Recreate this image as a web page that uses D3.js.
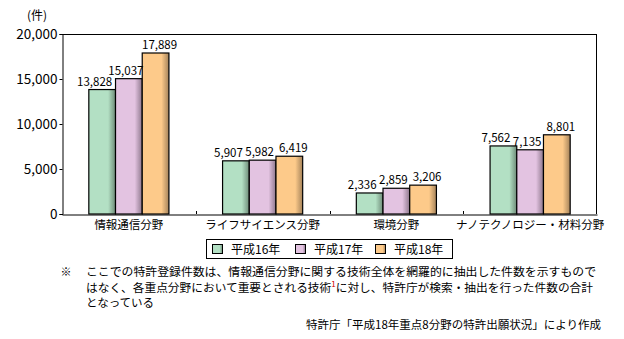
<!DOCTYPE html>
<html><head><meta charset="utf-8">
<script src="https://cdn.jsdelivr.net/npm/d3@7"></script>
<style>body{margin:0;background:#fff}svg{display:block}text{font-family:"Noto Sans CJK JP","Liberation Sans",sans-serif}</style>
</head><body>
<script>
const categories = ["情報通信分野","ライフサイエンス分野","環境分野","ナノテクノロジー・材料分野"];
const seriesNames = ["平成16年","平成17年","平成18年"];
const values16 = [13828, 5907, 2336, 7562];
const values17 = [15037, 5982, 2859, 7135];
const values18 = [17889, 6419, 3206, 8801];
const yTicks = [0, 5000, 10000, 15000, 20000];
const unitLabel = "(件)";
const noteLine1 = "ここでの特許登録件数は、情報通信分野に関する技術全体を網羅的に抽出した件数を示すもので";
const noteLine2a = "はなく、各重点分野において重要とされる技術";
const noteSup = "1";
const noteLine2b = "に対し、特許庁が検索・抽出を行った件数の合計";
const noteLine3 = "となっている";
const sourceText = "特許庁「平成18年重点8分野の特許出願状況」により作成";

const series = [values16, values17, values18];
const colors = [["#b3e0c4","#6e8b78"],["#e3c3e1","#8e788d"],["#fdca8a","#a5835a"]];

const W = 624, H = 339;
const svg = d3.select("body").append("svg").attr("width", W).attr("height", H);
const defs = svg.append("defs");
colors.forEach((c,i)=>{
  const g = defs.append("linearGradient").attr("id","g"+i).attr("x1","0").attr("x2","1").attr("y1","0").attr("y2","0");
  g.append("stop").attr("offset","0.72").attr("stop-color",c[0]);
  g.append("stop").attr("offset","1").attr("stop-color",c[1]);
});

const L = 62, R = 597, T = 34, B = 214;
const x = d3.scaleBand().domain(categories).range([L, R]);
const y = d3.scaleLinear().domain([0, 20000]).range([B, T]);
const barW = 26.7;

// frame
svg.append("line").attr("x1",L).attr("x2",R).attr("y1",T+0.5).attr("y2",T+0.5).attr("stroke","#000");
svg.append("line").attr("x1",R-0.5).attr("x2",R-0.5).attr("y1",T).attr("y2",B).attr("stroke","#000");

// y axis
const yAxis = svg.append("g").attr("transform",`translate(${L+0.5},0)`)
  .call(d3.axisLeft(y).tickValues(yTicks).tickSize(3).tickPadding(2).tickFormat(d3.format(",")));
yAxis.select(".domain").attr("stroke","#000");
yAxis.selectAll("text").attr("font-size","13.5px").attr("font-family","'Liberation Sans',sans-serif").attr("fill","#000");

// x axis
const xAxis = svg.append("g").attr("transform",`translate(0,${B+0.5})`)
  .call(d3.axisBottom(x).tickSize(0).tickPadding(6));
xAxis.select(".domain").attr("stroke","#000");
xAxis.selectAll("text").attr("font-size","11.5px").attr("fill","#000");
categories.slice(1).forEach(c=>{
  svg.append("line").attr("x1",Math.round(x(c))+0.5).attr("x2",Math.round(x(c))+0.5)
    .attr("y1",B-3).attr("y2",B).attr("stroke","#000");
});

svg.append("text").attr("x",37).attr("y",20).attr("text-anchor","middle").attr("font-size","12px").text(unitLabel);

// bars
const labelDx = [-7.5, -3, 4];
series.forEach((vals,si)=>{
  const g = svg.append("g");
  vals.forEach((v,ci)=>{
    const cx = x(categories[ci]) + x.bandwidth()/2;
    const x0 = cx - 1.5*barW + si*barW;
    g.append("rect").attr("x",x0).attr("y",y(v)).attr("width",barW).attr("height",B - y(v))
      .attr("fill",`url(#g${si})`).attr("stroke","#000").attr("stroke-width",1.2);
  });
});
series.forEach((vals,si)=>{
  vals.forEach((v,ci)=>{
    const cx = x(categories[ci]) + x.bandwidth()/2;
    const x0 = cx - 1.5*barW + si*barW;
    svg.append("text").attr("x",x0+barW/2+labelDx[si]).attr("y",y(v)-4).attr("text-anchor","middle")
      .attr("font-size","11.5px").attr("font-family","'Liberation Sans',sans-serif").text(d3.format(",")(v));
  });
});

// legend
const lg = svg.append("g");
lg.append("rect").attr("x",206.5).attr("y",239.5).attr("width",246).attr("height",19).attr("fill","#fff").attr("stroke","#000");
const legX = [212, 295, 375];
seriesNames.forEach((n,i)=>{
  lg.append("rect").attr("x",legX[i]+0.5).attr("y",244.5).attr("width",10).attr("height",9)
    .attr("fill",`url(#g${i})`).attr("stroke","#000");
  lg.append("text").attr("x",legX[i]+19).attr("y",253.5).attr("font-size","12px").text(n);
});

// notes
svg.append("text").attr("x",66).attr("y",276).attr("text-anchor","middle").attr("font-size","11px").text("※");
svg.append("text").attr("x",86).attr("y",276).attr("font-size","11.5px")
  .attr("textLength",510).attr("lengthAdjust","spacingAndGlyphs").text(noteLine1);
const t2 = svg.append("text").attr("x",86).attr("y",292).attr("font-size","11.5px")
  .attr("textLength",507).attr("lengthAdjust","spacingAndGlyphs");
t2.append("tspan").text(noteLine2a);
t2.append("tspan").attr("fill","#c00").attr("font-size","8px").attr("dy",-5).text(noteSup);
t2.append("tspan").attr("dy",5).text(noteLine2b);
svg.append("text").attr("x",86).attr("y",307).attr("font-size","11.5px").text(noteLine3);
svg.append("text").attr("x",601).attr("y",329).attr("text-anchor","end").attr("font-size","11.5px").text(sourceText);
</script>
</body></html>
